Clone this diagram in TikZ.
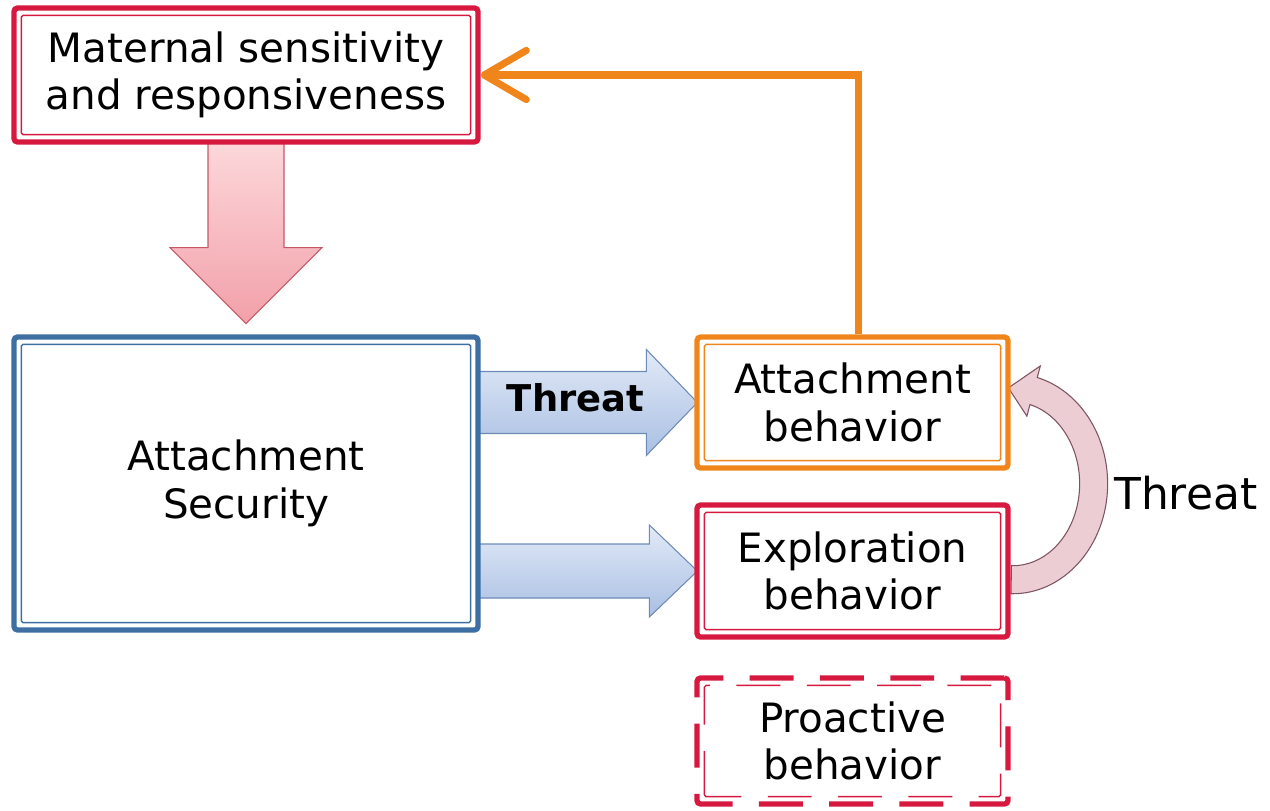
\documentclass[tikz,border=0pt]{standalone}
\usepackage{fontspec}
\setmainfont{DejaVu Sans}
\usetikzlibrary{arrows.meta,calc,positioning}
\pgfdeclarelayer{bg}
\pgfsetlayers{bg,main}
\definecolor{matred}{HTML}{D7193F}
\definecolor{secblue}{HTML}{3D6FA3}
\definecolor{attorange}{HTML}{F0851C}
\definecolor{pinktop}{HTML}{FCD8DB}
\definecolor{pinkbot}{HTML}{F2A0A9}
\definecolor{pinkline}{HTML}{C45A69}
\definecolor{bluetop}{HTML}{E2EAF7}
\definecolor{bluebot}{HTML}{A9BFE3}
\definecolor{blueline}{HTML}{6D8BB7}
\definecolor{loopfill}{HTML}{ECCDD3}
\definecolor{loopline}{HTML}{7E5262}
\tikzset{
  box/.style={draw, fill=white, line width=3pt, rounded corners=2pt, align=center,
    inner sep=0pt, font=\fontsize{23}{27}\selectfont},
  innerline/.style={line width=0.8pt, rounded corners=1pt},
  fatpink/.style={draw=pinkline, line width=0.6pt, top color=pinktop, bottom color=pinkbot},
  fatblue/.style={draw=blueline, line width=0.6pt, top color=bluetop, bottom color=bluebot},
  loopband/.style={draw=loopline, line width=0.6pt, fill=loopfill},
  feedback/.style={attorange, line width=4pt, -{Straight Barb[length=24pt,width=28pt,round]}},
  lbl/.style={font=\fontsize{25}{30}\selectfont},
  arrowlbl/.style={font=\bfseries\fontsize{21}{25}\selectfont}
}
\begin{document}
\begin{tikzpicture}[x=0.2mm,y=-0.2mm]
\useasboundingbox (0,0) rectangle (1270,810);
\node[box, draw=matred, minimum width=92.8mm, minimum height=26.8mm] (mat) at (246,75) {Maternal sensitivity\\and responsiveness};
\node[box, draw=secblue, minimum width=92.8mm, minimum height=58.6mm] (sec) at (246,483.5) {Attachment\\Security};
\node[box, draw=attorange, minimum width=62.2mm, minimum height=26.2mm] (att) at (852.5,402.5) {Attachment\\behavior};
\node[box, draw=matred, minimum width=62.2mm, minimum height=26.4mm] (exp) at (852.5,571) {Exploration\\behavior};
\node[box, draw=matred, dash pattern=on 25pt off 15pt, minimum width=62.2mm, minimum height=25.2mm] (pro) at (852.5,741) {Proactive\\behavior};
\foreach \n/\c in {mat/matred, sec/secblue, att/attorange, exp/matred}
  \draw[innerline, \c] ([shift={(10,-10)}]\n.south west) rectangle ([shift={(-10,10)}]\n.north east);
\draw[innerline, matred, dash pattern=on 25pt off 15pt] ([shift={(10,-10)}]pro.south west) rectangle ([shift={(-10,10)}]pro.north east);
\coordinate (lc) at ($(att.east)!0.5!(exp.east)+(2,-3)$);
\begin{pgfonlayer}{bg}
\draw[fatpink] (mat.south) ++(-38,-4) -- ++(0,107) -- ++(-38,0) -- ++(76,76) -- ++(76,-76) -- ++(-38,0) -- ++(0,-107) -- cycle;
\draw[fatblue] ($(sec.east |- att.west)+(-4,-31)$) -- ($(att.west)+(-48,-31)$) -- ++(0,-22) -- ($(att.west)+(3,0)$)
  -- ($(att.west)+(-48,53)$) -- ++(0,-22) -- ($(sec.east |- att.west)+(-4,31)$) -- cycle;
\draw[fatblue] ($(sec.east |- exp.west)+(-4,-27)$) -- ($(exp.west)+(-45,-27)$) -- ++(0,-19) -- ($(exp.west)+(3,0)$)
  -- ($(exp.west)+(-45,46)$) -- ++(0,-19) -- ($(sec.east |- exp.west)+(-4,27)$) -- cycle;
\draw[loopband] ($(lc)+(91:95 and 110)$) arc[start angle=91, end angle=-75, x radius=95, y radius=110]
  -- ($(lc)+(-75:107 and 122)$) -- ($(lc)+(-93:81 and 96)$) -- ($(lc)+(-75:55 and 70)$)
  -- ($(lc)+(-75:67 and 82)$) arc[start angle=-75, end angle=91, x radius=67, y radius=82] -- cycle;
\end{pgfonlayer}
\draw[feedback] ([xshift=1.2mm]att.north) |- (mat.east);
\node[arrowlbl] (thr1) at ($(sec.east |- att.west)!0.5!(att.west)+(-12,-5)$) {Threat};
\node[lbl, anchor=west] (thr2) at (1108,493) {Threat};
\end{tikzpicture}
\end{document}
